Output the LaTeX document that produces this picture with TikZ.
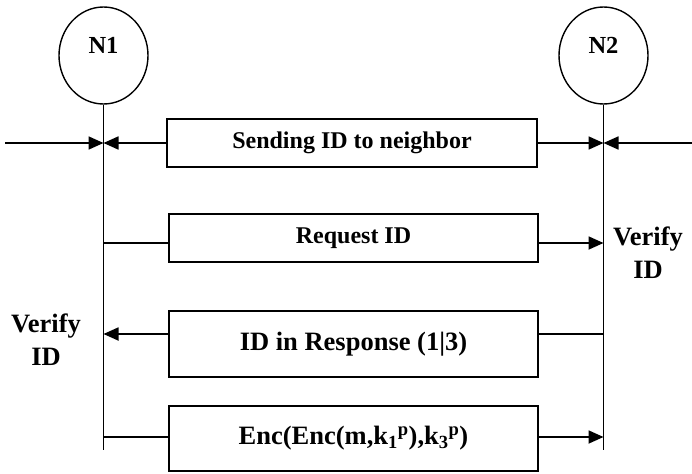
\documentclass[tikz,border=0pt]{standalone}
\usepackage{fontspec}
\setmainfont{Liberation Serif}
\usetikzlibrary{arrows.meta,shapes.geometric}
\begin{document}
\begin{tikzpicture}[x=1pt,y=-1pt,
  msgbox/.style={draw,line width=1.6pt,inner sep=0pt,font=\fontsize{24}{28}\selectfont\bfseries},
  bigmsg/.style={msgbox,font=\fontsize{26.5}{30}\selectfont\bfseries},
  peer/.style={draw,ellipse,line width=1.4pt,minimum width=89pt,minimum height=97pt,inner sep=0pt},
  peertext/.style={font=\fontsize{24.5}{28}\selectfont\bfseries},
  life/.style={line width=1.5pt},
  conn/.style={line width=1.8pt},
  arr/.style={conn,-{Triangle[length=15pt,width=13pt]}},
  note/.style={align=center,font=\fontsize{26.5}{33}\selectfont\bfseries}]
\useasboundingbox (0,0) rectangle (692,473);
% peers
\node[peer] (n1) at (103.5,55.5) {};
\node[peertext] (n1t) at (103.5,45) {N1};
\node[peer] (n2) at (603.5,55.5) {};
\node[peertext] (n2t) at (603.5,45) {N2};
% lifeline ends
\coordinate (e1) at (103.5,450);
\coordinate (e2) at (603.5,450);
\draw[life] (n1.south) -- (e1);
\draw[life] (n2.south) -- (e2);
% message boxes
\node[msgbox,minimum width=370pt,minimum height=48pt] (b1) at (352,143) {Sending ID to neighbor};
\node[msgbox,minimum width=369pt,minimum height=48pt] (b2) at (353.5,238) {Request ID};
\node[bigmsg,minimum width=369pt,minimum height=66pt] (b3) at (353.5,344) {ID in Response (1|3)};
\node[bigmsg,minimum width=369pt,minimum height=65pt] (b4) at (353.5,438.5) {Enc(Enc(m,k\textsubscript{1}\textsuperscript{p}),k\textsubscript{3}\textsuperscript{p})};
% points on lifelines
\coordinate (outl) at (5,143);
\coordinate (outr) at (692,143);
\coordinate (a1) at (103.5,143);
\coordinate (a2) at (603.5,143);
\coordinate (r1) at (103.5,243);
\coordinate (r2) at (603.5,243);
\coordinate (s1) at (103.5,334);
\coordinate (s2) at (603.5,334);
\coordinate (t1) at (103.5,437);
\coordinate (t2) at (603.5,437);
% connectors
\draw[arr] (outl) -- (a1);
\draw[arr] (b1.west) -- (a1);
\draw[arr] (b1.east) -- (a2);
\draw[arr] (outr) -- (a2);
\draw[conn] (r1) -- (b2.west |- r1);
\draw[arr] (b2.east |- r2) -- (r2);
\draw[conn] (s2) -- (b3.east |- s2);
\draw[arr] (b3.west |- s1) -- (s1);
\draw[conn] (t1) -- (b4.west |- t1);
\draw[arr] (b4.east |- t2) -- (t2);
% notes
\node[note] (v1) at (46,340) {Verify\\ID};
\node[note] (v2) at (648,253) {Verify\\ID};
\end{tikzpicture}
\end{document}
